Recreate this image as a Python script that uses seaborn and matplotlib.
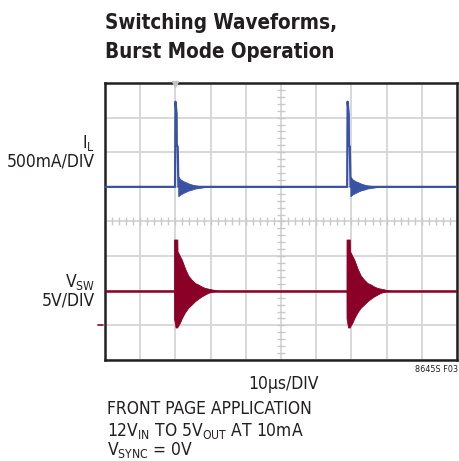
import numpy as np
import pandas as pd
import matplotlib
matplotlib.use('Agg')
import matplotlib.pyplot as plt
import seaborn as sns

# scope: 10 div x 10us, 8 div vertical
# I_L: 500mA/DIV, zero at +1 div ; V_SW: 5V/DIV, ground at -3 div
burst_starts_il = [19.9, 68.8]
burst_starts_sw = [19.6, 68.6]

# I_L spike, us after burst start / amps
il_spike_t = [0.0, 0.12, 0.45, 0.5, 0.75, 0.9, 0.95]
il_spike_a = [0.0, 1.23, 1.05, 0.61, 0.58, 0.15, 0.0]

# I_L ringing envelope
il_ring_t = [0.9, 1.5, 2.4, 2.85, 3.8, 4.75, 5.7, 7.6, 8.8]
il_ring_hi = [0.15, 0.11, 0.08, 0.073, 0.05, 0.034, 0.022, 0.01, 0.0]
il_ring_lo = [-0.135, -0.11, -0.086, -0.075, -0.053, -0.04, -0.024, -0.01, 0.0]

# V_SW ringing envelope, volts
sw_level = 5.0
sw_ring_t = [0.0, 0.02, 0.45, 0.95, 1.0, 1.7, 2.2, 2.65, 3.15, 4.05, 5.0, 6.0, 6.9, 7.9, 8.8, 9.75, 10.7, 11.65, 12.5]
sw_ring_hi = [5.0, 12.4, 12.4, 12.4, 10.7, 10.0, 9.5, 8.9, 8.2, 7.2, 6.6, 6.1, 5.9, 5.6, 5.4, 5.3, 5.2, 5.08, 5.0]
sw_ring_lo = [5.0, 1.0, -0.3, -0.3, -0.2, 0.4, 1.0, 1.45, 1.9, 2.55, 3.0, 3.5, 3.85, 4.2, 4.45, 4.7, 4.85, 4.95, 5.0]

blue = '#3a52a3'
red = '#8a0027'
ink = '#231f20'


def il_div(a):
    return 1 + np.asarray(a) / 0.5


def sw_div(v):
    return -3 + np.asarray(v) / 5.0


sns.set_style('white')
plt.rcParams['font.family'] = ['DejaVu Sans']
plt.rcParams['font.stretch'] = 'condensed'
plt.rcParams['mathtext.default'] = 'regular'

fig = plt.figure(figsize=(4.59, 4.61), dpi=100)
ax = fig.add_axes([105 / 459, 101 / 461, 352 / 459, 277 / 461])

# grid
ax.set_xlim(0, 100)
ax.set_ylim(-4, 4)
ax.set_xticks(np.arange(0, 101, 10))
ax.set_yticks(np.arange(-4, 5, 1))
ax.grid(True, color='#d6d6d6', lw=1.3)
ax.tick_params(length=0, labelleft=False, labelbottom=False)
for s in ax.spines.values():
    s.set_color(ink)
    s.set_linewidth(1.8)

# minor ticks on the centre lines
mx = np.arange(2, 100, 2)
my = np.arange(-3.8, 4, 0.2)
ax.plot(mx, np.zeros_like(mx), ls='none', marker='|', ms=6, mew=1, color='#c8c8c8', zorder=1)
ax.plot(np.full_like(my, 50), my, ls='none', marker='_', ms=6, mew=1, color='#c8c8c8', zorder=1)

# I_L trace
t_il = [0.0]
a_il = [0.0]
for b in burst_starts_il:
    t_il += [b + t for t in il_spike_t]
    a_il += il_spike_a
t_il.append(100.0)
a_il.append(0.0)
df_il = pd.DataFrame({'t': t_il, 'div': il_div(a_il)})
sns.lineplot(data=df_il, x='t', y='div', sort=False, estimator=None, color=blue, lw=1.6, ax=ax, zorder=3)
for b in burst_starts_il:
    tt = np.array(il_ring_t) + b
    ax.fill_between(tt, il_div(il_ring_lo), il_div(il_ring_hi), color=blue, lw=0.6, zorder=3)

# V_SW trace
df_sw = pd.DataFrame({'t': [0.0, 100.0], 'div': sw_div([sw_level, sw_level])})
sns.lineplot(data=df_sw, x='t', y='div', color=red, lw=1.8, ax=ax, zorder=3)
for b in burst_starts_sw:
    tt = np.array(sw_ring_t) + b
    ax.fill_between(tt, sw_div(sw_ring_lo), sw_div(sw_ring_hi), color=red, lw=0.6, zorder=3)

# ground marker for V_SW and trigger marker
ax.plot([-2.0, -0.6], sw_div([0, 0]), color=red, lw=1.2, clip_on=False)
ax.plot([20], [3.97], marker='v', ms=5, color='#c4c4c4', clip_on=False, zorder=4)
ax.set_xlabel('')
ax.set_ylabel('')

# text
fs = 12.5
fig.text(105 / 459, 1 - 29 / 461, 'Switching Waveforms,', ha='left', va='baseline',
         fontsize=14.8, fontweight='bold', color=ink)
fig.text(105 / 459, 1 - 58 / 461, 'Burst Mode Operation', ha='left', va='baseline',
         fontsize=14.8, fontweight='bold', color=ink)
fig.text(95 / 459, 1 - 148 / 461, r'I$_{L}$', ha='right', va='baseline', fontsize=fs, color=ink)
fig.text(95 / 459, 1 - 167 / 461, '500mA/DIV', ha='right', va='baseline', fontsize=fs, color=ink)
fig.text(95 / 459, 1 - 287 / 461, r'V$_{SW}$', ha='right', va='baseline', fontsize=fs, color=ink)
fig.text(95 / 459, 1 - 305 / 461, '5V/DIV', ha='right', va='baseline', fontsize=fs, color=ink)
fig.text(283 / 459, 1 - 389 / 461, '10µs/DIV', ha='center', va='baseline', fontsize=fs, color=ink)
fig.text(458 / 459, 1 - 372 / 461, '8645S F03', ha='right', va='baseline', fontsize=6.5, color=ink)
fig.text(107 / 459, 1 - 414 / 461, 'FRONT PAGE APPLICATION', ha='left', va='baseline', fontsize=fs, color=ink)
fig.text(107 / 459, 1 - 436 / 461, r'12V$_{IN}$ TO 5V$_{OUT}$ AT 10mA', ha='left', va='baseline', fontsize=fs, color=ink)
fig.text(107 / 459, 1 - 455 / 461, r'V$_{SYNC}$ = 0V', ha='left', va='baseline', fontsize=fs, color=ink)

fig.savefig('out.png', dpi=100)
